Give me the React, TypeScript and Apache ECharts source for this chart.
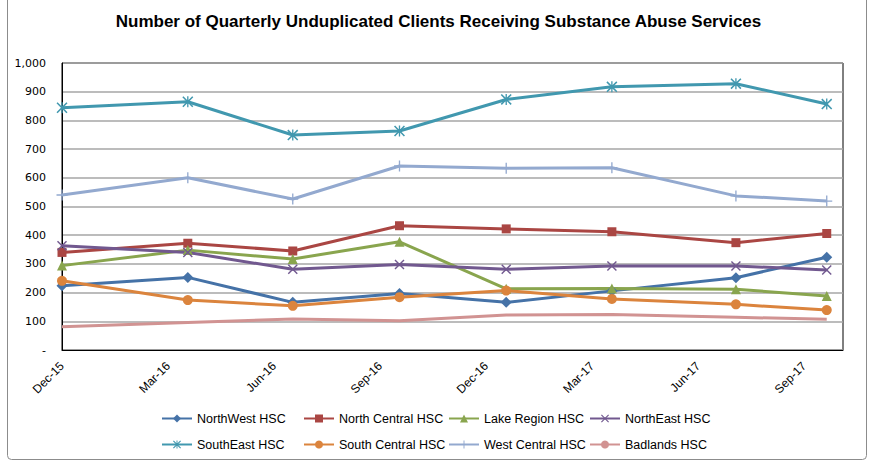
import React, { useEffect, useRef } from "react";
import * as echarts from "echarts";

const tickLabels = ["Dec-15", "Mar-16", "Jun-16", "Sep-16", "Dec-16", "Mar-17", "Jun-17", "Sep-17"];
// x positions of the reporting points, in months since Dec-15
const pointMonths = [0, 3.56, 6.53, 9.55, 12.57, 15.56, 19.07, 21.64];

const northWest = [224, 253, 166, 197, 166, 206, 252, 323];
const northCentral = [340, 372, 345, 433, 422, 412, 374, 406];
const lakeRegion = [294, 348, 317, 377, 213, 214, 212, 188];
const northEast = [363, 340, 281, 298, 281, 293, 293, 279];
const southEast = [844, 865, 749, 763, 873, 917, 928, 857];
const southCentral = [241, 174, 154, 184, 207, 178, 159, 139];
const westCentral = [540, 600, 526, 641, 633, 635, 537, 519];
const badlands = [81, 96, 108, 102, 122, 124, 114, 107];

const X_SYM = "path://M0,1L1,0L5,4L9,0L10,1L6,5L10,9L9,10L5,6L1,10L0,9L4,5Z";
const AST_SYM = "path://M0,1L1,0L5,4L9,0L10,1L6,5L10,9L9,10L5,6L1,10L0,9L4,5Z M4.4,0H5.6V10H4.4Z";
const PLUS_SYM = "path://M4.4,0H5.6V4.4H10V5.6H5.6V10H4.4V5.6H0V4.4H4.4Z";

const seriesDefs = [
  { name: "NorthWest HSC", data: northWest, color: "#4572A7", symbol: "diamond", size: 11 },
  { name: "North Central HSC", data: northCentral, color: "#AA4643", symbol: "rect", size: 9 },
  { name: "Lake Region HSC", data: lakeRegion, color: "#89A54E", symbol: "triangle", size: 10 },
  { name: "NorthEast HSC", data: northEast, color: "#71588F", symbol: X_SYM, size: 10 },
  { name: "SouthEast HSC", data: southEast, color: "#4198AF", symbol: AST_SYM, size: 11 },
  { name: "South Central HSC", data: southCentral, color: "#DB843D", symbol: "circle", size: 10 },
  { name: "West Central HSC", data: westCentral, color: "#93A9CF", symbol: PLUS_SYM, size: 11 },
  { name: "Badlands HSC", data: badlands, color: "#D19392", symbol: "none", size: 0 },
];

const legendColumns = [
  { left: 156, names: ["NorthWest HSC", "SouthEast HSC"] },
  { left: 298, names: ["North Central HSC", "South Central HSC"] },
  { left: 443, names: ["Lake Region HSC", "West Central HSC"] },
  { left: 584, names: ["NorthEast HSC", "Badlands HSC"] },
];

export default function App() {
  const ref = useRef<HTMLDivElement>(null);
  useEffect(() => {
    document.body.style.margin = "0";
    const chart = echarts.init(ref.current!, null, { renderer: "svg" });
    const font = "'Liberation Sans', Arial, sans-serif";
    chart.setOption({
      animation: false,
      backgroundColor: "#fff",
      title: {
        text: "Number of Quarterly Unduplicated Clients Receiving Substance Abuse Services",
        left: "center",
        top: 8,
        textStyle: { fontFamily: font, fontWeight: "bold", fontSize: 17, color: "#000" },
      },
      graphic: [
        {
          type: "rect",
          shape: { x: 7.5, y: -5, width: 859, height: 464.5, r: 4 },
          style: { fill: "none", stroke: "#8c8c8c", lineWidth: 1 },
          silent: true,
        },
      ],
      grid: {
        left: 62,
        top: 63,
        right: 34,
        bottom: 112,
        show: true,
        borderColor: "#000",
        borderWidth: 1,
        backgroundColor: "transparent",
      },
      legend: legendColumns.map((c) => ({
        orient: "vertical",
        left: c.left,
        top: 407,
        itemGap: 13,
        itemWidth: 30,
        itemHeight: 10,
        data: c.names,
        textStyle: { fontFamily: font, fontSize: 12.5, color: "#000" },
        selectedMode: false,
      })),
      xAxis: {
        type: "value",
        min: 0,
        max: 22.1,
        interval: 3,
        axisLine: { show: true, lineStyle: { color: "#000", width: 1 } },
        axisTick: { show: false },
        splitLine: { show: false },
        axisLabel: {
          rotate: 45,
          margin: 14,
          fontFamily: font,
          fontSize: 12,
          color: "#000",
          showMaxLabel: false,
          formatter: (v: number) => {
            const i = Math.round(v / 3);
            return Math.abs(v - i * 3) < 1e-6 && tickLabels[i] ? tickLabels[i] : "";
          },
        },
      },
      yAxis: {
        type: "value",
        min: 0,
        max: 1000,
        interval: 100,
        axisLine: { show: true, lineStyle: { color: "#000", width: 1 } },
        axisTick: { show: false },
        splitLine: { show: true, lineStyle: { color: "#a6a6a6", width: 1.5 } },
        axisLabel: {
          margin: 16,
          fontFamily: "'DejaVu Sans', Verdana, sans-serif",
          fontSize: 11,
          color: "#000",
          formatter: (v: number) => (v === 0 ? "-" : v.toLocaleString("en-US")),
        },
      },
      series: seriesDefs.map((s) => ({
        name: s.name,
        type: "line",
        data: s.data.map((v, i) => [pointMonths[i], v]),
        symbol: s.symbol,
        symbolSize: s.size,
        showSymbol: s.symbol !== "none",
        color: s.color,
        lineStyle: { width: 3, color: s.color },
        itemStyle: { color: s.color, borderWidth: 0 },
      })),
    });
    return () => chart.dispose();
  }, []);
  return <div ref={ref} style={{ width: 877, height: 462 }} />;
}
